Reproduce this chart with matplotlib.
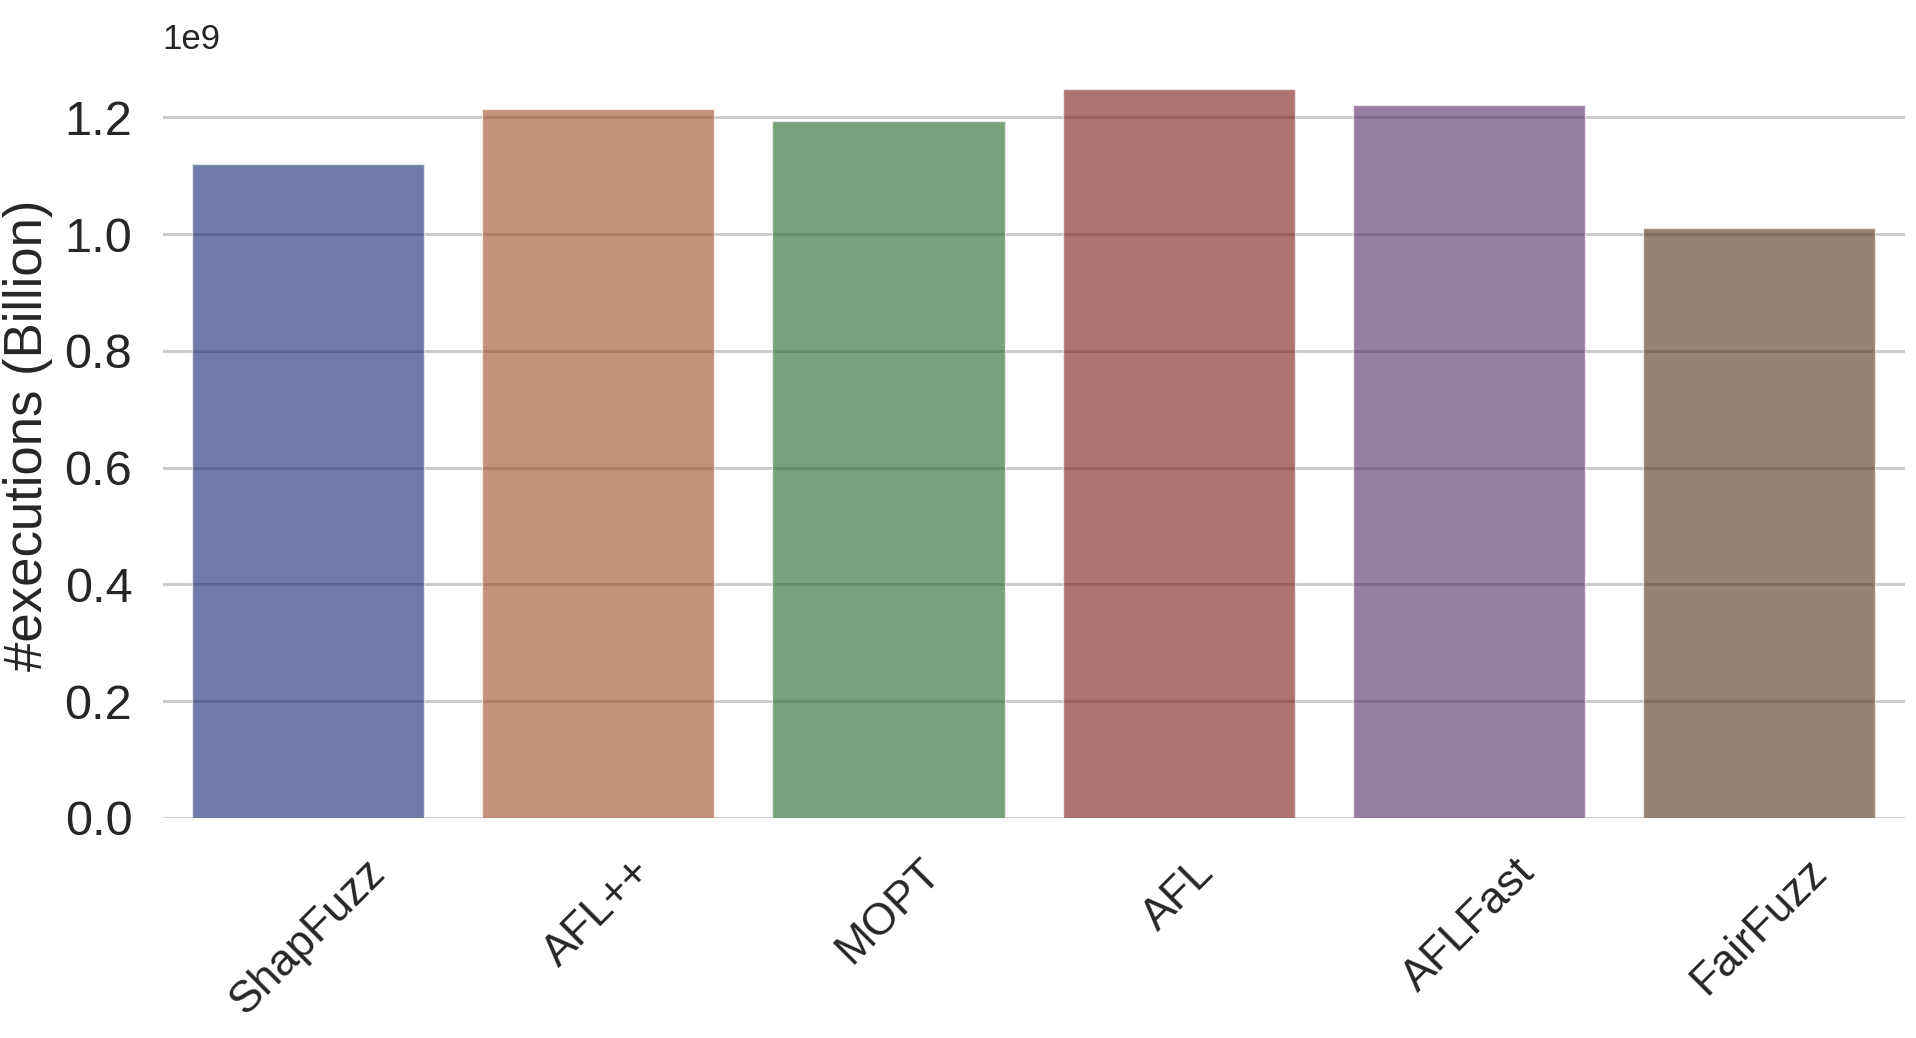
import matplotlib
matplotlib.use("Agg")
import matplotlib.pyplot as plt
import seaborn as sns

# fuzzers and their total executions
fuzzers = ["ShapFuzz", "AFL++", "MOPT", "AFL", "AFLFast", "FairFuzz"]
executions = [1.120e9, 1.215e9, 1.194e9, 1.248e9, 1.221e9, 1.010e9]

sns.set_theme(style="whitegrid")
plt.rcParams["font.family"] = ["Liberation Sans", "DejaVu Sans"]

fig = plt.figure(figsize=(19.16, 10.38), dpi=100)
ax = fig.add_axes([0.085, 0.212, 0.909, 0.737])

sns.barplot(x=fuzzers, y=executions, hue=fuzzers, palette="dark",
            alpha=0.6, legend=False, ax=ax)

ax.set_ylabel("#executions (Billion)", fontsize=38, labelpad=8)
ax.tick_params(axis="y", labelsize=35, pad=16)
ax.tick_params(axis="x", labelsize=32, rotation=45, pad=18)
ax.yaxis.get_offset_text().set_fontsize(25)
ax.grid(axis="y", linewidth=2.2, color="#cccccc")
sns.despine(ax=ax, left=True, bottom=True)

fig.savefig("out.png", dpi=100)
